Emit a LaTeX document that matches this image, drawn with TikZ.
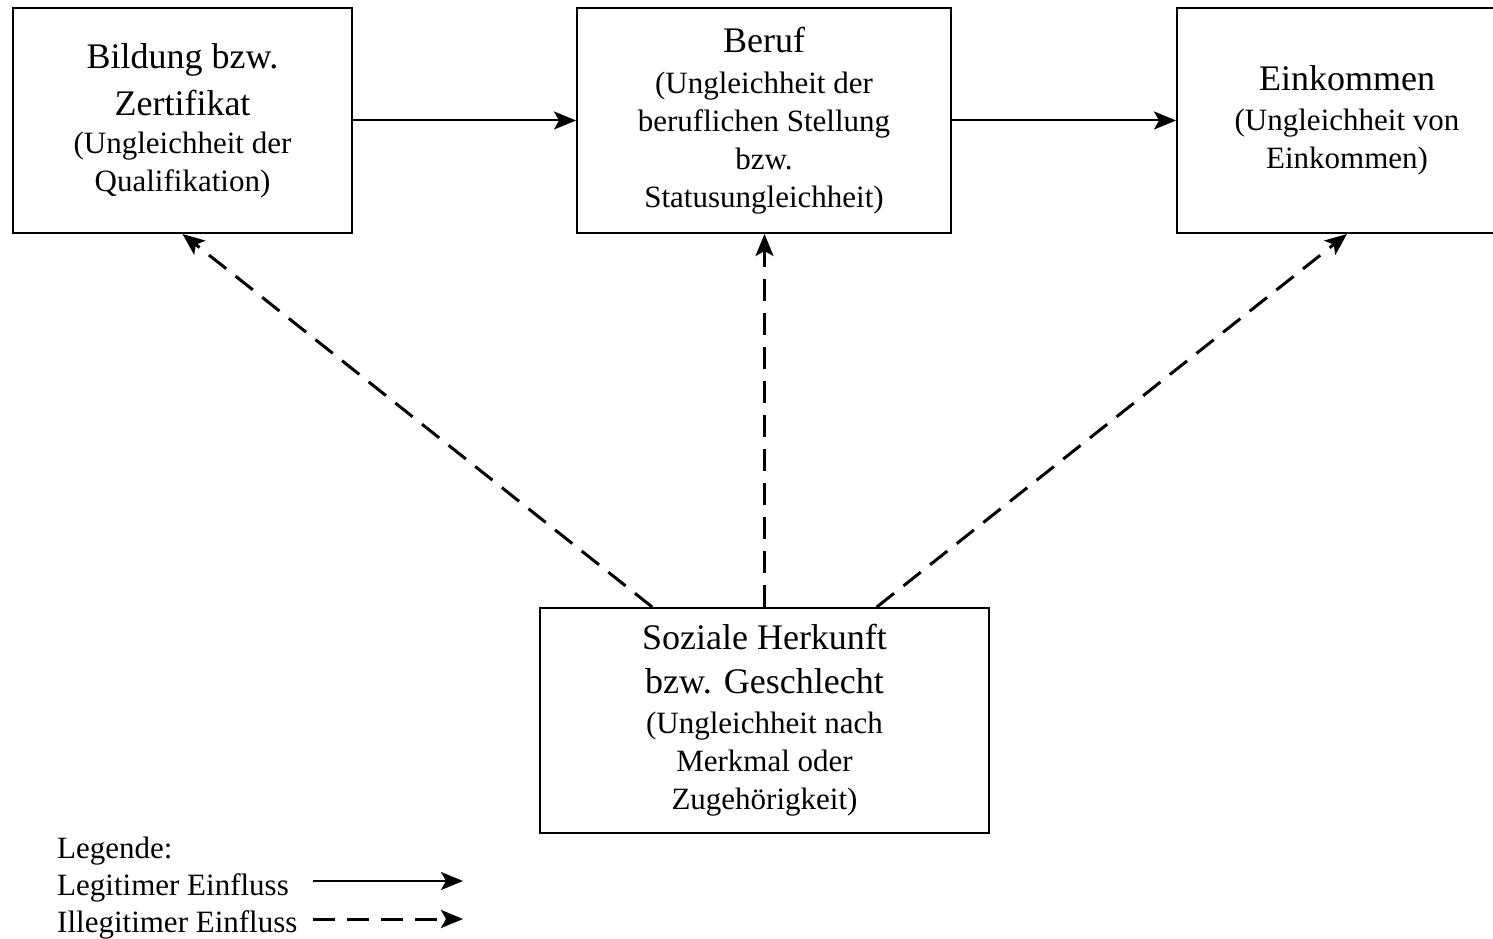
\documentclass[tikz,border=0pt]{standalone}
\usepackage{fontspec}
\setmainfont{Liberation Serif}
\usetikzlibrary{arrows.meta,calc}
\newcommand{\tf}{\fontsize{36}{45}\selectfont}
\tikzset{
  box/.style={draw, line width=2pt, minimum width=339pt, minimum height=225pt, inner sep=0pt, align=center, font=\fontsize{31}{38}\selectfont},
  legit/.style={line width=2pt, -{Stealth[length=22pt,width=18pt,inset=5pt]}},
  illegit/.style={line width=3pt, dash pattern=on 22pt off 12pt, -{Stealth[length=22pt,width=18pt,inset=5pt]}},
  legtext/.style={anchor=base west, inner sep=0pt, font=\fontsize{31}{38}\selectfont}
}
\begin{document}
\begin{tikzpicture}[x=1pt,y=-1pt]
\useasboundingbox (0,0) rectangle (1493,939);
\clip (0,0) rectangle (1493,939);
\node[box] (b1) at (182.5,120.5) {{\tf Bildung bzw.}\\[9pt]{\tf Zertifikat}\\(Ungleichheit der\\Qualifikation)};
\node[box, minimum width=374pt] (b2) at (764,120.5) {{\tf Beruf}\\[3pt](Ungleichheit der\\beruflichen Stellung\\bzw.\\Statusungleichheit)};
\node[box, minimum width=340pt] (b3) at (1347,120.5) {{\tf Einkommen}\\[2pt](Ungleichheit von\\Einkommen)};
\node[box, minimum width=449pt] (b4) at (764.5,720.5) {{\tf Soziale Herkunft}\\[6pt]{\tf bzw. Geschlecht}\\[2pt](Ungleichheit nach\\Merkmal oder\\Zugehörigkeit)};
\draw[legit] (b1.east) -- (b2.west);
\draw[legit] (b2.east) -- (b3.west);
\coordinate (s1) at ($(b4.north west)!0.251!(b4.north east)$);
\coordinate (s3) at ($(b4.north west)!0.749!(b4.north east)$);
\draw[illegit] (s1) -- (b1.south);
\draw[illegit] (b4.north) -- (b4.north |- b2.south);
\draw[illegit] (s3) -- (b3.south);
\node[legtext] (l0) at (57,858) {Legende:};
\node[legtext] (l1) at (57,895) {Legitimer Einfluss};
\node[legtext] (l2) at (57,932) {Illegitimer Einfluss};
\coordinate (a1) at (313,881);
\coordinate (a2) at (463,881);
\coordinate (c1) at (313,919);
\coordinate (c2) at (463,919);
\draw[legit] (a1) -- (a2);
\draw[illegit] (c1) -- (c2);
\end{tikzpicture}
\end{document}
